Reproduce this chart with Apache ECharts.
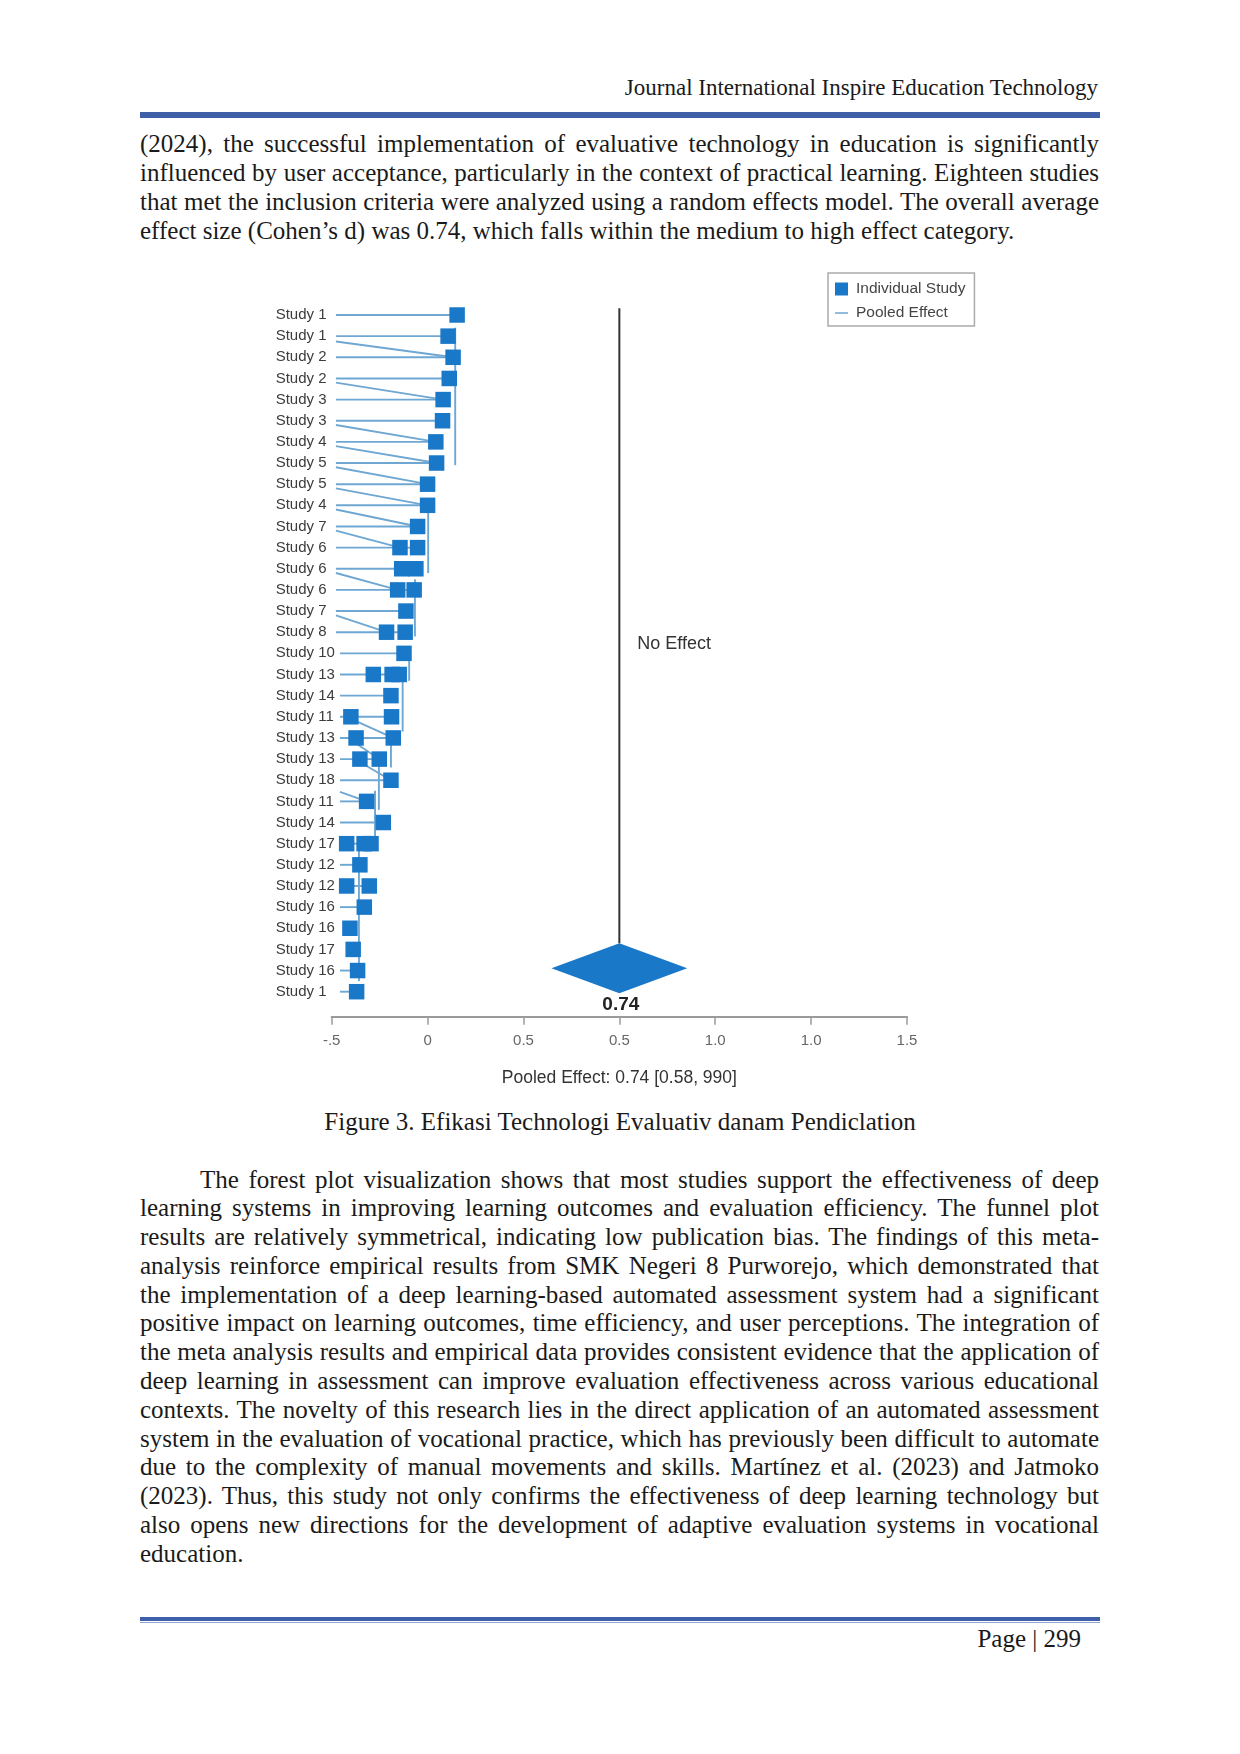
<!DOCTYPE html>
<html>
<head>
<meta charset="utf-8">
<title>Figure 3</title>
<script src="https://cdn.jsdelivr.net/npm/echarts@6.0.0/dist/echarts.min.js"></script>
<style>
body{margin:0;background:#fff;}
#page{position:relative;width:1240px;height:1754px;overflow:hidden;font-family:"Liberation Serif","Times New Roman",serif;color:#1a1a1a;}
.head{position:absolute;right:142px;top:73px;font-size:23px;line-height:30px;white-space:nowrap;}
.rule{position:absolute;left:140px;width:960px;background:#3f5fa9;}
.para{position:absolute;left:140px;width:959px;font-size:25px;}
.para div{text-align:justify;text-align-last:justify;white-space:nowrap;}
.para div.last{text-align-last:left;}
.caption{position:absolute;left:0;width:1240px;top:1107px;text-align:center;font-size:25px;line-height:30px;}
.foot{position:absolute;right:159px;top:1624px;font-size:25px;line-height:30px;}
#chart{position:absolute;left:0;top:250px;width:1240px;height:850px;}
</style>
</head>
<body>
<div id="page">
  <div class="head">Journal International Inspire Education Technology</div>
  <div class="rule" style="top:112px;height:6px;"></div>

  <div class="para" style="top:129px;line-height:29px;">
    <div>(2024), the successful implementation of evaluative technology in education is significantly</div>
    <div>influenced by user acceptance, particularly in the context of practical learning. Eighteen studies</div>
    <div>that met the inclusion criteria were analyzed using a random effects model. The overall average</div>
    <div class="last">effect size (Cohen’s d) was 0.74, which falls within the medium to high effect category.</div>
  </div>

  <div id="chart"></div>

  <div class="caption">Figure 3. Efikasi Technologi Evaluativ danam Pendiclation</div>

  <div class="para" style="top:1165.5px;line-height:28.8px;">
    <div style="padding-left:60px;">The forest plot visualization shows that most studies support the effectiveness of deep</div>
    <div>learning systems in improving learning outcomes and evaluation efficiency. The funnel plot</div>
    <div>results are relatively symmetrical, indicating low publication bias. The findings of this meta-</div>
    <div>analysis reinforce empirical results from SMK Negeri 8 Purworejo, which demonstrated that</div>
    <div>the implementation of a deep learning-based automated assessment system had a significant</div>
    <div>positive impact on learning outcomes, time efficiency, and user perceptions. The integration of</div>
    <div>the meta analysis results and empirical data provides consistent evidence that the application of</div>
    <div>deep learning in assessment can improve evaluation effectiveness across various educational</div>
    <div>contexts. The novelty of this research lies in the direct application of an automated assessment</div>
    <div>system in the evaluation of vocational practice, which has previously been difficult to automate</div>
    <div>due to the complexity of manual movements and skills. Martínez et al. (2023) and Jatmoko</div>
    <div>(2023). Thus, this study not only confirms the effectiveness of deep learning technology but</div>
    <div>also opens new directions for the development of adaptive evaluation systems in vocational</div>
    <div class="last">education.</div>
  </div>

  <div class="rule" style="top:1617px;height:4px;"></div>
  <div class="rule" style="top:1622px;height:1px;background:#8fa3cf;"></div>
  <div class="foot">Page | 299</div>
</div>

<script>
// row labels, top to bottom (as printed)
var studies = ['Study 1','Study 1','Study 2','Study 2','Study 3','Study 3','Study 4','Study 5','Study 5','Study 4',
  'Study 7','Study 6','Study 6','Study 6','Study 7','Study 8','Study 10','Study 13','Study 14','Study 11',
  'Study 13','Study 13','Study 18','Study 11','Study 14','Study 17','Study 12','Study 12','Study 16','Study 16',
  'Study 17','Study 16','Study 1'];

// square positions per row, in axis units (some rows show more than one square)
var effects = [[0.154],[0.107],[0.133],[0.113],[0.081],[0.078],[0.043],[0.047],[0.0],[0.0],
  [-0.052],[-0.144,-0.052],[-0.135,-0.061],[-0.156,-0.070],[-0.113],[-0.214,-0.117],[-0.123],
  [-0.283,-0.185,-0.148],[-0.191],[-0.40,-0.188],[-0.373,-0.179],[-0.353,-0.252],[-0.191],[-0.318],
  [-0.231],[-0.422,-0.331,-0.295],[-0.353],[-0.422,-0.304],[-0.330],[-0.405],[-0.388],[-0.365],[-0.370]];

// where each row's line starts (null = no leader line)
var lineStarts = [-0.478,-0.478,-0.478,-0.478,-0.478,-0.478,-0.478,-0.478,-0.478,-0.478,
  -0.478,-0.478,-0.478,-0.478,-0.478,-0.478,-0.457,-0.457,-0.457,-0.457,
  -0.457,-0.457,-0.457,-0.457,-0.457,null,-0.457,null,-0.457,null,
  null,-0.457,-0.457];

// slanted connectors: [fromX, fromRow, toX, toRow]
var links = [[-0.478,1.25,0.133,2],[-0.478,3.2,0.081,4],[-0.478,5.2,0.043,6],[-0.478,6.2,0.047,7],
  [-0.478,7.2,0.0,8],[-0.478,8.2,0.0,9],[-0.478,9.2,-0.052,10],[-0.478,10.2,-0.144,11],
  [-0.478,12.2,-0.156,13],[-0.478,14.2,-0.214,15],[-0.40,19.1,-0.179,20],[-0.40,20.1,-0.252,21],
  [-0.36,21.1,-0.191,22],[-0.457,22.55,-0.318,23]];

// vertical connectors: [x, fromRow, toRow]
var stems = [[0.144,0.6,7.1],[0.003,9.05,12.2],[-0.066,12.5,15.2],[-0.096,16.3,17.3],[-0.13,16.7,19.7],
  [-0.191,20.0,21.4],[-0.254,21.0,23.4],[-0.274,22.5,25.0],[-0.358,25.0,31.5]];

// x axis: evenly spaced ticks, labels exactly as printed
var xMin = -0.5, xMax = 2.5, xStep = 0.5;
var tickLabels = ['-.5','0','0.5','0.5','1.0','1.0','1.5'];

// pooled diamond [low, centre, high]
var pooled = [0.646, 1.0, 1.354];
var pooledLabel = '0.74';
var pooledTitle = 'Pooled Effect: 0.74 [0.58, 990]';

var squareColor = '#1a78c8';
var leaderColor = '#6fa7d3';
var sans = 'Liberation Sans, Arial, sans-serif';

var squares = [];
effects.forEach(function (row, i) {
  row.forEach(function (v) { squares.push([v, i]); });
});

var rowLines = [];
effects.forEach(function (row, i) {
  var hi = Math.max.apply(null, row), lo = Math.min.apply(null, row);
  if (lineStarts[i] !== null) rowLines.push([lineStarts[i], hi, i]);
  else if (row.length > 1) rowLines.push([lo, hi, i]);
});

function segment(a, b) {
  return {
    type: 'line',
    shape: { x1: a[0], y1: a[1], x2: b[0], y2: b[1] },
    style: { stroke: leaderColor, lineWidth: 1.9 }
  };
}

var chart = echarts.init(document.getElementById('chart'), null, { renderer: 'canvas' });

chart.setOption({
  animation: false,
  backgroundColor: '#fff',
  textStyle: { fontFamily: sans },
  grid: { left: 331.7, right: 333, top: 65, bottom: 108.3, outerBoundsMode: 'none' },
  legend: {
    orient: 'vertical',
    left: 828, top: 23,
    padding: [8, 9, 5, 7],
    itemWidth: 13, itemHeight: 13, itemGap: 8,
    borderColor: '#aaa', borderWidth: 1.5,
    textStyle: { fontSize: 15.5, color: '#444', padding: [0, 0, 0, 3] },
    data: [
      { name: 'Individual Study', icon: 'rect', itemStyle: { color: squareColor } },
      { name: 'Pooled Effect', icon: 'path://M0,0h0.05v0.05h-0.05z M0,6.2h14v1.6h-14z M13.95,13.95h0.05v0.05h-0.05z',
        itemStyle: { color: leaderColor } }
    ]
  },
  xAxis: {
    type: 'value',
    min: xMin, max: xMax, interval: xStep,
    offset: 25,
    splitLine: { show: false },
    axisLine: { show: true, onZero: false, lineStyle: { color: '#9a9a9a', width: 2 } },
    axisTick: { show: true, length: 8, lineStyle: { color: '#9a9a9a', width: 1.5 } },
    axisLabel: {
      margin: 17, fontSize: 15, color: '#666',
      formatter: function (v) { return tickLabels[Math.round((v - xMin) / xStep)]; }
    },
    name: pooledTitle,
    nameLocation: 'middle',
    nameGap: 52,
    nameTextStyle: { fontSize: 17.5, color: '#333' }
  },
  yAxis: {
    type: 'value',
    inverse: true,
    min: 0, max: studies.length - 1, interval: 1,
    splitLine: { show: false },
    axisLine: { show: false },
    axisTick: { show: false },
    axisLabel: {
      align: 'left', margin: 56, fontSize: 15, color: '#3c3c3c',
      formatter: function (v) { return studies[v]; }
    }
  },
  series: [
    {
      name: 'leaders',
      type: 'custom',
      data: rowLines,
      encode: { x: [0, 1], y: 2 },
      z: 2,
      renderItem: function (params, api) {
        return segment(api.coord([api.value(0), api.value(2)]), api.coord([api.value(1), api.value(2)]));
      }
    },
    {
      name: 'links',
      type: 'custom',
      data: links,
      encode: { x: [0, 2], y: [1, 3] },
      z: 2,
      renderItem: function (params, api) {
        return segment(api.coord([api.value(0), api.value(1)]), api.coord([api.value(2), api.value(3)]));
      }
    },
    {
      name: 'stems',
      type: 'custom',
      data: stems,
      encode: { x: 0, y: [1, 2] },
      z: 2,
      renderItem: function (params, api) {
        return segment(api.coord([api.value(0), api.value(1)]), api.coord([api.value(0), api.value(2)]));
      }
    },
    {
      name: 'Individual Study',
      type: 'scatter',
      symbol: 'rect',
      symbolSize: 15.5,
      data: squares,
      z: 3,
      itemStyle: { color: squareColor, opacity: 1 }
    },
    {
      name: 'Pooled Effect',
      type: 'custom',
      data: [pooled],
      encode: { x: [0, 1, 2] },
      z: 4,
      renderItem: function (params, api) {
        var lo = api.value(0), mid = api.value(1), hi = api.value(2);
        var cx = api.coord([mid, 0])[0];
        var lx = api.coord([lo, 0])[0];
        var rx = api.coord([hi, 0])[0];
        var cy = api.coord([mid, studies.length - 1])[1] - 23.4;
        var half = 25;
        return {
          type: 'group',
          children: [
            {
              type: 'line',
              shape: { x1: cx, y1: api.coord([mid, -0.32])[1], x2: cx, y2: cy - half },
              style: { stroke: '#333', lineWidth: 2 }
            },
            {
              type: 'polygon',
              shape: { points: [[lx, cy], [cx, cy - half], [rx, cy], [cx, cy + half]] },
              style: { fill: squareColor }
            },
            {
              type: 'text',
              x: cx + 1.5, y: cy + 36,
              style: { text: pooledLabel, fontSize: 19, fontWeight: 'bold', fill: '#222',
                align: 'center', verticalAlign: 'middle', fontFamily: sans }
            },
            {
              type: 'text',
              x: cx + 18, y: api.coord([mid, 15.55])[1],
              style: { text: 'No Effect', fontSize: 18, fill: '#333',
                align: 'left', verticalAlign: 'middle', fontFamily: sans }
            }
          ]
        };
      }
    }
  ]
});
</script>
</body>
</html>
